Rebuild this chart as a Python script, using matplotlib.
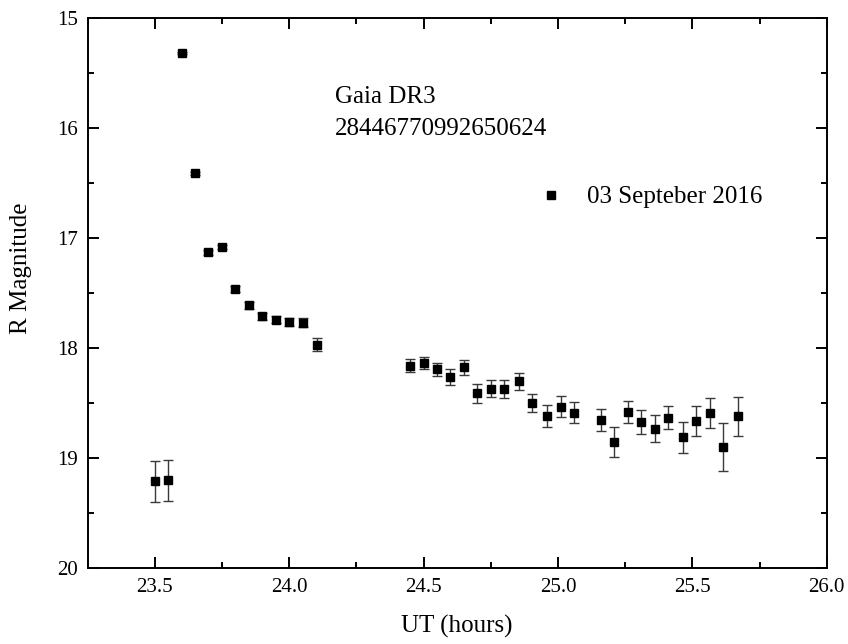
import matplotlib
matplotlib.use("Agg")
import matplotlib.pyplot as plt
from matplotlib.ticker import MultipleLocator
import numpy as np

plt.rcParams['font.family'] = ['Liberation Serif', 'DejaVu Serif']

# UT (hours), R magnitude and error
ut = [23.50, 23.55, 23.60, 23.65, 23.70, 23.75, 23.80, 23.85, 23.90, 23.95,
      24.00, 24.05, 24.105, 24.45, 24.50, 24.55, 24.60, 24.65, 24.70, 24.75,
      24.80, 24.855, 24.905, 24.96, 25.01, 25.06, 25.16, 25.21, 25.26, 25.31,
      25.36, 25.41, 25.465, 25.515, 25.565, 25.615, 25.67]
rmag = [19.21, 19.20, 15.315, 16.41, 17.13, 17.08, 17.46, 17.61, 17.71, 17.74,
        17.76, 17.77, 17.97, 18.16, 18.135, 18.19, 18.26, 18.175, 18.41, 18.37,
        18.37, 18.30, 18.50, 18.62, 18.53, 18.585, 18.65, 18.85, 18.58, 18.67,
        18.73, 18.63, 18.81, 18.66, 18.59, 18.90, 18.62]
rerr = [0.185, 0.185, 0.01, 0.015, 0.02, 0.02, 0.025, 0.03, 0.03, 0.03,
        0.035, 0.04, 0.059, 0.058, 0.058, 0.06, 0.073, 0.065, 0.088, 0.077,
        0.079, 0.076, 0.083, 0.10, 0.094, 0.094, 0.10, 0.136, 0.10, 0.109,
        0.123, 0.108, 0.138, 0.135, 0.136, 0.22, 0.18]

fig = plt.figure(figsize=(8.48, 6.44), dpi=100)
ax = fig.add_axes([0.1032, 0.1175, 0.8718, 0.8545])

ax.errorbar(ut, rmag, yerr=rerr, fmt='none', ecolor='#3a3a3a', elinewidth=1.0,
            capsize=3.5, capthick=1.0)
ax.plot(ut, rmag, 's', color='black', markersize=6, label='03 Septeber 2016')

ax.set_xlim(23.25, 26.0)
ax.set_ylim(20, 15)
ax.xaxis.set_major_locator(MultipleLocator(0.5))
ax.xaxis.set_minor_locator(MultipleLocator(0.25))
ax.yaxis.set_major_locator(MultipleLocator(1))
ax.yaxis.set_minor_locator(MultipleLocator(0.5))
ax.xaxis.set_major_formatter(matplotlib.ticker.FormatStrFormatter('%.1f'))

ax.tick_params(which='both', direction='in', top=True, right=True, width=1.4)
ax.tick_params(which='major', length=8, labelsize=15, pad=7)
ax.tick_params(which='minor', length=4)
for sp in ax.spines.values():
    sp.set_linewidth(1.4)

ax.set_xlabel('UT (hours)', fontsize=18)
ax.set_ylabel('R Magnitude', fontsize=18)
ax.xaxis.set_label_coords(0.5, -0.085)
ax.yaxis.set_label_coords(-0.075, 0.545)

ax.text(24.17, 15.773, 'Gaia DR3', fontsize=18, va='baseline')
ax.text(24.17, 16.064, '28446770992650624', fontsize=18, va='baseline')

ax.legend(loc='center left', bbox_to_anchor=(0.6096, 0.6745), frameon=False,
          fontsize=18, markerscale=1.0, handlelength=1.0, handletextpad=0.94,
          borderpad=0, borderaxespad=0)

fig.savefig('out.png', dpi=100)
